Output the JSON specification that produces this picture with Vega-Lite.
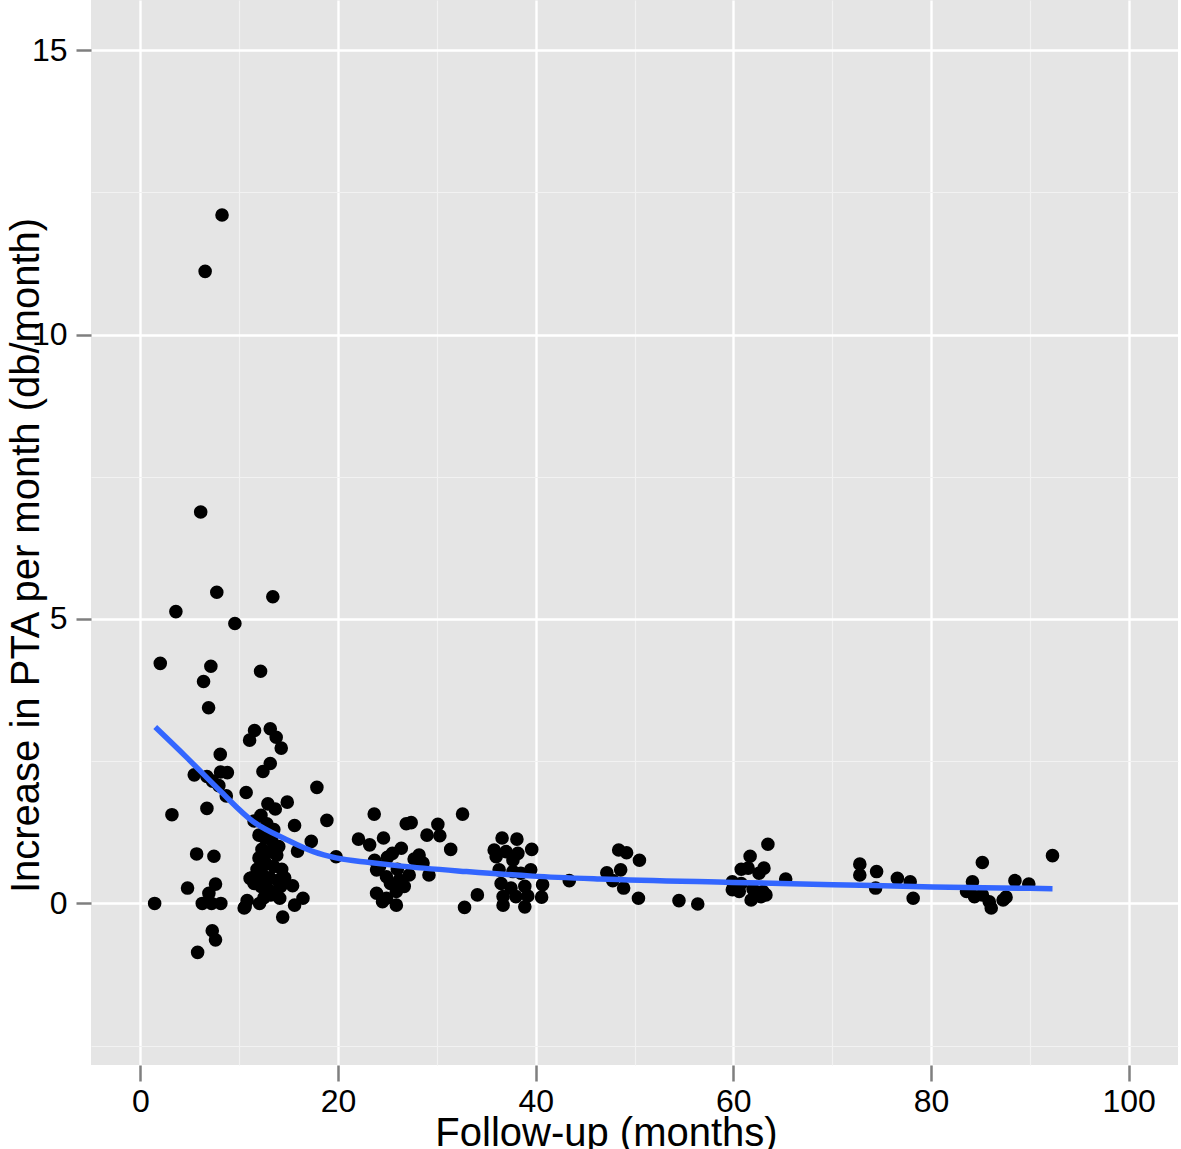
{
  "$schema": "https://vega.github.io/schema/vega-lite/v6.json",
  "width": 1087,
  "height": 1065,
  "autosize": {"type": "none"},
  "padding": {"left": 91, "top": 0, "right": 3, "bottom": 84},
  "background": "white",
  "config": {"view": {"fill": "#E5E5E5", "stroke": null}},
  "datasets": {
    "pts": [
      {"months": 1.44, "rate": 0}, {"months": 2.01, "rate": 4.22}, {"months": 3.19, "rate": 1.56}, {"months": 3.59, "rate": 5.13},
      {"months": 4.77, "rate": 0.27}, {"months": 5.45, "rate": 2.26}, {"months": 5.69, "rate": 0.87}, {"months": 5.79, "rate": -0.86},
      {"months": 6.1, "rate": 6.88}, {"months": 6.26, "rate": 0}, {"months": 6.39, "rate": 3.9}, {"months": 6.55, "rate": 11.11},
      {"months": 6.73, "rate": 2.23}, {"months": 6.73, "rate": 1.67}, {"months": 6.9, "rate": 3.44}, {"months": 6.93, "rate": 0.18},
      {"months": 7.13, "rate": 4.17}, {"months": 7.2, "rate": 0}, {"months": 7.27, "rate": -0.48}, {"months": 7.44, "rate": 0.83},
      {"months": 7.6, "rate": 0.34}, {"months": 7.6, "rate": -0.64}, {"months": 7.73, "rate": 5.47}, {"months": 7.94, "rate": 2.07},
      {"months": 8.08, "rate": 2.62}, {"months": 8.11, "rate": 2.31}, {"months": 8.14, "rate": 0}, {"months": 8.26, "rate": 12.1},
      {"months": 8.69, "rate": 1.89}, {"months": 8.8, "rate": 2.3}, {"months": 9.56, "rate": 4.92}, {"months": 10.5, "rate": -0.08},
      {"months": 10.7, "rate": 1.95}, {"months": 10.8, "rate": 0.05}, {"months": 11.1, "rate": 0.44}, {"months": 7.3, "rate": 2.15},
      {"months": 11.05, "rate": 2.87}, {"months": 11.55, "rate": 3.04}, {"months": 12.16, "rate": 4.08}, {"months": 12.4, "rate": 2.32},
      {"months": 13.14, "rate": 2.46}, {"months": 13.14, "rate": 3.07}, {"months": 13.4, "rate": 5.39}, {"months": 13.74, "rate": 2.92},
      {"months": 14.25, "rate": 2.73}, {"months": 12.9, "rate": 1.75}, {"months": 13.65, "rate": 1.66}, {"months": 14.86, "rate": 1.78},
      {"months": 15.6, "rate": 1.37}, {"months": 15.9, "rate": 0.92}, {"months": 16.45, "rate": 0.09}, {"months": 15.6, "rate": -0.03},
      {"months": 14.1, "rate": 0.09}, {"months": 10.6, "rate": -0.06}, {"months": 12.06, "rate": 0}, {"months": 14.4, "rate": -0.24},
      {"months": 17.29, "rate": 1.09}, {"months": 17.86, "rate": 2.04}, {"months": 18.87, "rate": 1.46}, {"months": 19.8, "rate": 0.82},
      {"months": 11.5, "rate": 1.45}, {"months": 12.2, "rate": 1.55}, {"months": 12.8, "rate": 1.4}, {"months": 13.5, "rate": 1.3},
      {"months": 12.0, "rate": 1.2}, {"months": 12.6, "rate": 1.15}, {"months": 13.3, "rate": 1.1}, {"months": 14.0, "rate": 1.0},
      {"months": 12.3, "rate": 0.95}, {"months": 13.0, "rate": 0.9}, {"months": 13.8, "rate": 0.85}, {"months": 12.0, "rate": 0.8},
      {"months": 12.7, "rate": 0.7}, {"months": 13.5, "rate": 0.65}, {"months": 14.3, "rate": 0.6}, {"months": 11.8, "rate": 0.6},
      {"months": 12.4, "rate": 0.5}, {"months": 13.1, "rate": 0.45}, {"months": 13.9, "rate": 0.4}, {"months": 11.5, "rate": 0.35},
      {"months": 12.2, "rate": 0.3}, {"months": 12.9, "rate": 0.25}, {"months": 13.7, "rate": 0.2}, {"months": 11.3, "rate": 0.45},
      {"months": 14.6, "rate": 0.45}, {"months": 13.2, "rate": 0.15}, {"months": 12.5, "rate": 0.1}, {"months": 14.2, "rate": 0.3},
      {"months": 15.4, "rate": 0.31},
      {"months": 22.07, "rate": 1.13}, {"months": 23.2, "rate": 1.03}, {"months": 23.66, "rate": 1.57}, {"months": 24.6, "rate": 1.15},
      {"months": 26.9, "rate": 1.4}, {"months": 27.4, "rate": 1.42}, {"months": 30.1, "rate": 1.39}, {"months": 32.6, "rate": 1.57},
      {"months": 29.0, "rate": 1.2}, {"months": 30.3, "rate": 1.19}, {"months": 31.4, "rate": 0.95}, {"months": 26.4, "rate": 0.97},
      {"months": 25.5, "rate": 0.88}, {"months": 25.0, "rate": 0.81}, {"months": 28.2, "rate": 0.85}, {"months": 27.7, "rate": 0.78},
      {"months": 23.7, "rate": 0.76}, {"months": 28.6, "rate": 0.71}, {"months": 29.2, "rate": 0.5}, {"months": 23.9, "rate": 0.59},
      {"months": 24.9, "rate": 0.47}, {"months": 26.2, "rate": 0.41}, {"months": 27.2, "rate": 0.5}, {"months": 23.9, "rate": 0.18},
      {"months": 24.9, "rate": 0.09}, {"months": 25.9, "rate": 0.21}, {"months": 26.7, "rate": 0.3}, {"months": 24.5, "rate": 0.03},
      {"months": 25.9, "rate": -0.03}, {"months": 34.1, "rate": 0.15}, {"months": 32.8, "rate": -0.07}, {"months": 24.2, "rate": 0.65},
      {"months": 25.3, "rate": 0.35}, {"months": 26.0, "rate": 0.6},
      {"months": 36.6, "rate": 1.15}, {"months": 38.1, "rate": 1.13}, {"months": 39.6, "rate": 0.95}, {"months": 35.8, "rate": 0.94},
      {"months": 36.0, "rate": 0.82}, {"months": 37.0, "rate": 0.91}, {"months": 37.7, "rate": 0.76}, {"months": 38.2, "rate": 0.88},
      {"months": 36.3, "rate": 0.59}, {"months": 37.7, "rate": 0.56}, {"months": 38.5, "rate": 0.53}, {"months": 39.5, "rate": 0.59},
      {"months": 36.5, "rate": 0.35}, {"months": 37.5, "rate": 0.27}, {"months": 38.9, "rate": 0.3}, {"months": 40.7, "rate": 0.33},
      {"months": 36.7, "rate": 0.12}, {"months": 38.0, "rate": 0.12}, {"months": 39.2, "rate": 0.13}, {"months": 40.6, "rate": 0.11},
      {"months": 36.7, "rate": -0.03}, {"months": 38.9, "rate": -0.06}, {"months": 43.4, "rate": 0.4},
      {"months": 48.4, "rate": 0.94}, {"months": 49.2, "rate": 0.89}, {"months": 50.5, "rate": 0.76}, {"months": 48.6, "rate": 0.59},
      {"months": 47.2, "rate": 0.54}, {"months": 47.8, "rate": 0.4}, {"months": 48.9, "rate": 0.27}, {"months": 50.4, "rate": 0.09},
      {"months": 54.5, "rate": 0.05}, {"months": 56.4, "rate": -0.01}, {"months": 63.5, "rate": 1.04}, {"months": 61.7, "rate": 0.83},
      {"months": 60.8, "rate": 0.6}, {"months": 61.5, "rate": 0.62}, {"months": 63.1, "rate": 0.62}, {"months": 62.6, "rate": 0.53},
      {"months": 65.3, "rate": 0.43}, {"months": 59.9, "rate": 0.38}, {"months": 60.8, "rate": 0.35}, {"months": 59.9, "rate": 0.24},
      {"months": 60.6, "rate": 0.21}, {"months": 62.0, "rate": 0.25}, {"months": 63.0, "rate": 0.21}, {"months": 61.8, "rate": 0.06},
      {"months": 62.8, "rate": 0.12}, {"months": 63.3, "rate": 0.15},
      {"months": 72.8, "rate": 0.69}, {"months": 72.8, "rate": 0.5}, {"months": 74.5, "rate": 0.56}, {"months": 74.4, "rate": 0.27},
      {"months": 76.6, "rate": 0.44}, {"months": 77.9, "rate": 0.38}, {"months": 78.2, "rate": 0.09}, {"months": 85.2, "rate": 0.72},
      {"months": 84.2, "rate": 0.38}, {"months": 83.6, "rate": 0.21}, {"months": 84.4, "rate": 0.12}, {"months": 85.2, "rate": 0.15},
      {"months": 85.9, "rate": 0.03}, {"months": 86.1, "rate": -0.08}, {"months": 87.3, "rate": 0.06}, {"months": 87.6, "rate": 0.11},
      {"months": 88.5, "rate": 0.4}, {"months": 89.9, "rate": 0.34}, {"months": 92.3, "rate": 0.84}
    ],
    "fit": [
      {"months": 1.5, "rate": 3.1}, {"months": 4.6, "rate": 2.58}, {"months": 8.0, "rate": 1.99}, {"months": 11.4, "rate": 1.44},
      {"months": 14.8, "rate": 1.12}, {"months": 17.5, "rate": 0.91}, {"months": 19.8, "rate": 0.8}, {"months": 23.2, "rate": 0.72},
      {"months": 26.2, "rate": 0.66}, {"months": 33.0, "rate": 0.56}, {"months": 39.7, "rate": 0.48}, {"months": 46.5, "rate": 0.43},
      {"months": 59.9, "rate": 0.37}, {"months": 70.1, "rate": 0.33}, {"months": 80.2, "rate": 0.29}, {"months": 92.3, "rate": 0.26}
    ]
  },
  "layer": [
    {
      "data": {"name": "pts"},
      "mark": {"type": "circle", "size": 185, "color": "black", "opacity": 1},
      "encoding": {
        "x": {
          "field": "months", "type": "quantitative",
          "scale": {"domain": [-5, 105], "nice": false, "zero": false},
          "axis": {
            "values": [0, 10, 20, 30, 40, 50, 60, 70, 80, 90, 100],
            "grid": true,
            "gridColor": {"condition": {"test": "datum.value % 20 === 0", "value": "white"}, "value": "#F2F2F2"},
            "gridWidth": {"condition": {"test": "datum.value % 20 === 0", "value": 2.4}, "value": 1.2},
            "domain": false,
            "tickColor": "#7F7F7F",
            "tickOpacity": {"condition": {"test": "datum.value % 20 === 0", "value": 1}, "value": 0},
            "tickSize": 16, "tickWidth": 2.5,
            "labelExpr": "datum.value % 20 === 0 ? format(datum.value, 'd') : ''",
            "labelFont": "Liberation Sans", "labelFontSize": 32, "labelColor": "black", "labelPadding": 5,
            "title": "Follow-up (months)",
            "titleFont": "Liberation Sans", "titleFontSize": 40, "titleFontWeight": "normal", "titleColor": "black",
            "titleX": 515, "titleY": 80, "titleBaseline": "alphabetic", "titleAlign": "center"
          }
        },
        "y": {
          "field": "rate", "type": "quantitative",
          "scale": {"domain": [-2.84, 15.88], "nice": false, "zero": false},
          "axis": {
            "values": [-2.5, 0, 2.5, 5, 7.5, 10, 12.5, 15],
            "grid": true,
            "gridColor": {"condition": {"test": "datum.value % 5 === 0", "value": "white"}, "value": "#F2F2F2"},
            "gridWidth": {"condition": {"test": "datum.value % 5 === 0", "value": 2.4}, "value": 1.2},
            "domain": false,
            "tickColor": "#7F7F7F",
            "tickOpacity": {"condition": {"test": "datum.value % 5 === 0", "value": 1}, "value": 0},
            "tickSize": 15, "tickWidth": 2.5,
            "labelExpr": "datum.value % 5 === 0 ? format(datum.value, 'd') : ''",
            "labelFont": "Liberation Sans", "labelFontSize": 32, "labelColor": "black", "labelPadding": 9,
            "title": "Increase in PTA per month (db/month)",
            "titleFont": "Liberation Sans", "titleFontSize": 40, "titleFontWeight": "normal", "titleColor": "black",
            "titleAngle": -90, "titleX": -53, "titleY": 555, "titleBaseline": "alphabetic", "titleAlign": "center"
          }
        }
      }
    },
    {
      "data": {"name": "fit"},
      "mark": {"type": "line", "color": "#3366FF", "strokeWidth": 5.5, "interpolate": "monotone"},
      "encoding": {
        "x": {"field": "months", "type": "quantitative"},
        "y": {"field": "rate", "type": "quantitative"}
      }
    }
  ]
}
